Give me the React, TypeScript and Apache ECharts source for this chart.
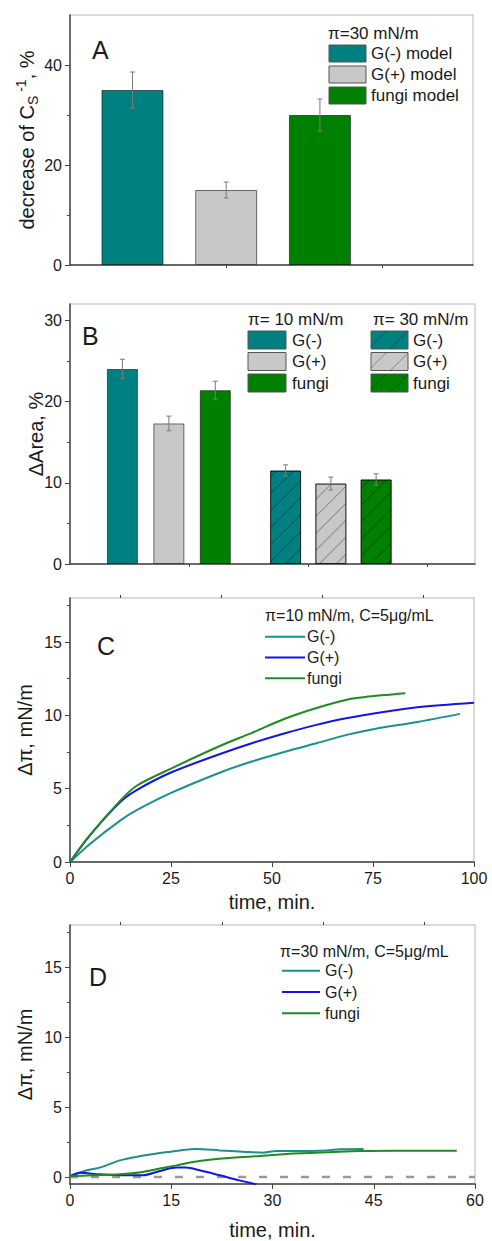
import React, { useEffect, useRef } from 'react';
import * as echarts from 'echarts';

const FONT = '"Liberation Sans", Arial, Helvetica, sans-serif';
const TXT = '#1a1a1a';
const AX = '#444';
const BORDER = '#cfcfcf';
const TEAL = '#008080';
const GREY = '#c8c8c8';
const GREEN = '#008000';
const LINE_TEAL = '#1a9090';
const LINE_BLUE = '#1414e6';
const LINE_GREEN = '#1f8c1f';

// ---------- Panel A ----------
const aLabels = ['G(-) model', 'G(+) model', 'fungi model'];
const aPositions = [1.4, 2.0, 2.6];
const aValues = [35, 15, 30];
const aErrors = [3.6, 1.6, 3.2];
const aLegendTitle = 'π=30 mN/m';
const aYMajor = [0, 20, 40];
const aYMinor = [10, 30];
const aXTicks = [2, 3];

// ---------- Panel B ----------
const bLabels = ['G(-)', 'G(+)', 'fungi'];
const bPositions10 = [0.44, 0.83, 1.22];
const bValues10 = [24.0, 17.3, 21.4];
const bErrors10 = [1.2, 0.9, 1.1];
const bPositions30 = [1.81, 2.19, 2.57];
const bValues30 = [11.5, 9.9, 10.4];
const bErrors30 = [0.7, 0.8, 0.7];
const bLegendTitles = ['π= 10 mN/m', 'π= 30 mN/m'];
const bYMajor = [0, 10, 20, 30];
const bYMinor = [5, 15, 25];
const bXTicks = [1, 2, 3];

// ---------- Panel C ----------
const cLegendTitle = 'π=10 mN/m, C=5μg/mL';
const cLineNames = ['G(-)', 'G(+)', 'fungi'];
const cTimeGneg = [0, 5, 12.5, 16.5, 25, 37.5, 45, 53, 61, 69, 76, 86, 96.5];
const cGneg = [0, 1.25, 2.84, 3.53, 4.71, 6.14, 6.85, 7.5, 8.1, 8.7, 9.1, 9.55, 10.1];
const cTimeGpos = [0, 5, 12.5, 16.5, 25, 37.5, 45, 53, 61, 68, 78, 86, 100];
const cGpos = [0, 1.85, 4.1, 4.9, 6.1, 7.4, 8.1, 8.76, 9.35, 9.78, 10.25, 10.55, 10.85];
const cTimeFungi = [0, 5, 12.5, 16.5, 25, 37.5, 45, 53, 61, 69, 73, 83];
const cFungi = [0, 1.85, 4.2, 5.2, 6.37, 7.96, 8.8, 9.75, 10.5, 11.1, 11.25, 11.5];
const cXMajor = [0, 25, 50, 75, 100];
const cXMinor = [12.5, 37.5, 62.5, 87.5];
const cYMajor = [0, 5, 10, 15];
const cYMinor = [2.5, 7.5, 12.5, 17.5];

// ---------- Panel D ----------
const dLegendTitle = 'π=30 mN/m, C=5μg/mL';
const dTimeGneg = [0, 2.5, 4.4, 7.4, 10.3, 13.3, 16.3, 18.7, 22.2, 25.6, 28.6, 30.5, 33.1, 38, 40, 43.5];
const dGneg = [0.05, 0.48, 0.67, 1.19, 1.48, 1.71, 1.9, 2.0, 1.9, 1.81, 1.74, 1.86, 1.86, 1.9, 1.98, 2.0];
const dTimeGpos = [0, 1.5, 4.4, 8.4, 10.8, 13.3, 15.8, 17.2, 19.2, 22.2, 25.1, 27.6];
const dGpos = [0.05, 0.3, 0.19, 0.12, 0.12, 0.43, 0.67, 0.67, 0.48, 0.12, -0.24, -0.52];
const dTimeFungi = [0, 3.4, 7.4, 10.8, 13.3, 15.8, 18.2, 20.7, 24.1, 28.1, 31, 33.1, 38, 43, 47.9, 57.3];
const dFungi = [0.05, 0.12, 0.19, 0.36, 0.6, 0.83, 1.07, 1.24, 1.38, 1.5, 1.6, 1.67, 1.76, 1.86, 1.88, 1.88];
const dZeroX = [0, 60];
const dXMajor = [0, 15, 30, 45, 60];
const dXMinor = [7.5, 22.5, 37.5, 52.5];
const dYMajor = [0, 5, 10, 15];
const dYMinor = [2.5, 7.5, 12.5, 17.5];

const zip = (xs: number[], ys: number[]) => xs.map((x, i) => [x, ys[i]]);

const labelStyle = { fontSize: 16, color: TXT, fontFamily: FONT };
const nameStyle = { fontSize: 20, color: TXT, fontFamily: FONT };

function mainAxis(gridIndex: number, min: number, max: number, major: number[], showLabels: boolean, extra: any = {}) {
  return {
    type: 'value', gridIndex, min, max,
    nameMoveOverlap: false,
    axisLine: { show: true, onZero: false, lineStyle: { color: AX, width: 1.5 } },
    axisTick: { show: true, length: showLabels ? 5 : 3, customValues: major, lineStyle: { color: AX, width: 1 } },
    axisLabel: showLabels ? { show: true, customValues: major, margin: 8, ...labelStyle } : { show: false },
    splitLine: { show: false },
    ...extra,
  };
}
function minorAxis(gridIndex: number, min: number, max: number, minor: number[], extra: any = {}) {
  return {
    type: 'value', gridIndex, min, max,
    axisLine: { show: false, onZero: false },
    axisTick: { show: true, length: 3, customValues: minor, lineStyle: { color: AX, width: 1 } },
    axisLabel: { show: false },
    splitLine: { show: false },
    ...extra,
  };
}

function errorSeries(xi: number, yi: number, data: number[][]) {
  return {
    type: 'custom', xAxisIndex: xi, yAxisIndex: yi, z: 5,
    data,
    encode: { x: 0, y: 1 },
    renderItem: (params: any, api: any) => {
      const x = api.value(0), y = api.value(1), e = api.value(2);
      const top = api.coord([x, y + e]);
      const bot = api.coord([x, y - e]);
      const hw = 2.5;
      const st = { stroke: '#7a7a7a', lineWidth: 1 };
      return {
        type: 'group',
        children: [
          { type: 'line', shape: { x1: top[0], y1: top[1], x2: bot[0], y2: bot[1] }, style: st },
          { type: 'line', shape: { x1: top[0] - hw, y1: top[1], x2: top[0] + hw, y2: top[1] }, style: st },
          { type: 'line', shape: { x1: bot[0] - hw, y1: bot[1], x2: bot[0] + hw, y2: bot[1] }, style: st },
        ],
      };
    },
  };
}

const hatchDecal = {
  symbol: 'rect', symbolSize: 1, color: 'rgba(0,0,0,0.3)',
  dashArrayX: [1, 0], dashArrayY: [1, 11], rotation: -Math.PI / 4,
};

function hatchLines(x0: number, y0: number, w: number, h: number, step: number) {
  const out: any[] = [];
  for (let c = x0 + y0 + step * 0.7; c < x0 + w + y0 + h; c += step) {
    const xa = Math.max(x0, c - (y0 + h));
    const xb = Math.min(x0 + w, c - y0);
    if (xb > xa) {
      out.push({ type: 'line', shape: { x1: xa, y1: c - xa, x2: xb, y2: c - xb }, style: { stroke: 'rgba(0,0,0,0.3)', lineWidth: 1 }, z: 110 });
    }
  }
  return out;
}

function txt(x: number, y: number, text: string, size: number, extra: any = {}) {
  return { type: 'text', x, y, z: 120, style: { text, fontSize: size, fontFamily: FONT, fill: TXT, align: 'left', verticalAlign: 'middle', ...extra } };
}
function swatch(x: number, y: number, w: number, h: number, fill: string) {
  return { type: 'rect', z: 100, shape: { x, y, width: w, height: h }, style: { fill, stroke: '#555', lineWidth: 1 } };
}
function legLine(x1: number, x2: number, y: number, color: string) {
  return { type: 'line', z: 100, shape: { x1, y1: y, x2, y2: y }, style: { stroke: color, lineWidth: 2 } };
}

export default function App() {
  const ref = useRef<HTMLDivElement>(null);
  useEffect(() => {
    document.body.style.margin = '0';
    const chart = echarts.init(ref.current!, null, { renderer: 'svg' });
    const barColors = [TEAL, GREY, GREEN];

    const grids = [
      { left: 70, top: 15, width: 403, height: 250 },
      { left: 70, top: 304, width: 405, height: 260 },
      { left: 70, top: 598, width: 404, height: 264 },
      { left: 70, top: 925, width: 405, height: 259 },
    ].map((g) => ({ ...g, show: true, borderColor: BORDER, borderWidth: 1.5, backgroundColor: 'transparent' }));

    const xAxis = [
      mainAxis(0, 1, 3.58, aXTicks, false),
      mainAxis(1, 0, 3.4, bXTicks, false),
      mainAxis(2, 0, 100, cXMajor, true, { name: 'time, min.', nameLocation: 'middle', nameGap: 30, nameTextStyle: nameStyle }),
      minorAxis(2, 0, 100, cXMinor),
      mainAxis(3, 0, 60, dXMajor, true, { name: 'time, min.', nameLocation: 'middle', nameGap: 36, nameTextStyle: nameStyle }),
      minorAxis(3, 0, 60, dXMinor),
    ];
    const yAxis = [
      mainAxis(0, 0, 50, aYMajor, true, {
        position: 'left',
        name: 'decrease of C{sub|S}{sup| -1}, %', nameLocation: 'middle', nameGap: 30,
        nameTextStyle: {
          ...nameStyle, lineHeight: 26,
          rich: {
            sub: { fontSize: 14, lineHeight: 14, verticalAlign: 'bottom', fontFamily: FONT, color: TXT },
            sup: { fontSize: 14, lineHeight: 14, verticalAlign: 'top', fontFamily: FONT, color: TXT },
          },
        },
      }),
      minorAxis(0, 0, 50, aYMinor, { position: 'left' }),
      mainAxis(1, 0, 32, bYMajor, true, { position: 'left', name: 'ΔArea, %', nameLocation: 'middle', nameGap: 24, nameTextStyle: nameStyle }),
      minorAxis(1, 0, 32, bYMinor, { position: 'left' }),
      mainAxis(2, 0, 18, cYMajor, true, { position: 'left', name: 'Δπ, mN/m', nameLocation: 'middle', nameGap: 35, nameTextStyle: nameStyle }),
      minorAxis(2, 0, 18, cYMinor, { position: 'left' }),
      mainAxis(3, -0.5, 18, dYMajor, true, { position: 'left', name: 'Δπ, mN/m', nameLocation: 'middle', nameGap: 35, nameTextStyle: nameStyle }),
      minorAxis(3, -0.5, 18, dYMinor, { position: 'left' }),
    ];

    const aBarData = aPositions.map((p, i) => ({ name: aLabels[i], value: [p, aValues[i]], itemStyle: { color: barColors[i] } }));
    const bBarData = [
      ...bPositions10.map((p, i) => ({ name: bLabels[i], value: [p, bValues10[i]], itemStyle: { color: barColors[i] } })),
      ...bPositions30.map((p, i) => ({ name: bLabels[i], value: [p, bValues30[i]], itemStyle: { color: barColors[i], decal: hatchDecal } })),
    ];

    const lineSeries = (xi: number, yi: number, name: string, data: number[][], color: string) => ({
      type: 'line', name, xAxisIndex: xi, yAxisIndex: yi, data, showSymbol: false, symbol: 'none',
      smooth: 0.3, lineStyle: { color, width: 2 }, itemStyle: { color }, z: 4, clip: true,
    });

    const series: any[] = [
      { type: 'bar', xAxisIndex: 0, yAxisIndex: 0, barWidth: 62, data: aBarData, itemStyle: { borderColor: 'rgba(0,0,0,0.55)', borderWidth: 1 } },
      errorSeries(0, 0, aPositions.map((p, i) => [p, aValues[i], aErrors[i]])),
      { type: 'bar', xAxisIndex: 1, yAxisIndex: 2, barWidth: 31, data: bBarData, itemStyle: { borderColor: 'rgba(0,0,0,0.55)', borderWidth: 1 } },
      errorSeries(1, 2, [
        ...bPositions10.map((p, i) => [p, bValues10[i], bErrors10[i]]),
        ...bPositions30.map((p, i) => [p, bValues30[i], bErrors30[i]]),
      ]),
      lineSeries(2, 4, 'G(-)', zip(cTimeGneg, cGneg), LINE_TEAL),
      lineSeries(2, 4, 'G(+)', zip(cTimeGpos, cGpos), LINE_BLUE),
      lineSeries(2, 4, 'fungi', zip(cTimeFungi, cFungi), LINE_GREEN),
      {
        type: 'line', xAxisIndex: 4, yAxisIndex: 6, data: dZeroX.map((x) => [x, 0]), showSymbol: false, symbol: 'none',
        lineStyle: { color: '#999999', width: 2.5, type: [8, 13] }, z: 2,
      },
      lineSeries(4, 6, 'G(-)', zip(dTimeGneg, dGneg), LINE_TEAL),
      lineSeries(4, 6, 'G(+)', zip(dTimeGpos, dGpos), LINE_BLUE),
      lineSeries(4, 6, 'fungi', zip(dTimeFungi, dFungi), LINE_GREEN),
    ];

    const lineColors = [LINE_TEAL, LINE_BLUE, LINE_GREEN];
    const graphic: any[] = [
      txt(92, 50, 'A', 25),
      txt(82, 336, 'B', 25),
      txt(97, 646, 'C', 25),
      txt(89, 977, 'D', 25),
      txt(328, 33, aLegendTitle, 17),
      ...[0, 1, 2].flatMap((i) => [
        swatch(329, 45 + i * 21, 37, 17, barColors[i]),
        txt(371, 53.5 + i * 21, aLabels[i], 17),
      ]),
      txt(248, 319, bLegendTitles[0], 17),
      txt(373, 319, bLegendTitles[1], 17),
      ...[0, 1, 2].flatMap((i) => [
        swatch(248, 331 + i * 21.5, 38, 18, barColors[i]),
        txt(292, 340 + i * 21.5, bLabels[i], 17),
        swatch(371, 331 + i * 21.5, 37, 18, barColors[i]),
        ...hatchLines(371, 331 + i * 21.5, 37, 18, 22),
        txt(413, 340 + i * 21.5, bLabels[i], 17),
      ]),
      txt(265, 615, cLegendTitle, 16),
      ...[0, 1, 2].flatMap((i) => [
        legLine(265, 305, 636.7 + i * 20.8, lineColors[i]),
        txt(307, 636.7 + i * 20.8, cLineNames[i], 16),
      ]),
      txt(280, 951.7, dLegendTitle, 16),
      ...[0, 1, 2].flatMap((i) => [
        legLine(282, 320, 970.7 + i * 21.3, lineColors[i]),
        txt(325, 970.7 + i * 21.3, cLineNames[i], 16),
      ]),
    ];

    chart.setOption({
      animation: false,
      backgroundColor: '#ffffff',
      textStyle: { fontFamily: FONT },
      grid: grids,
      xAxis,
      yAxis,
      series,
      graphic,
    });
    return () => chart.dispose();
  }, []);
  return <div ref={ref} style={{ width: 492, height: 1241 }} />;
}
